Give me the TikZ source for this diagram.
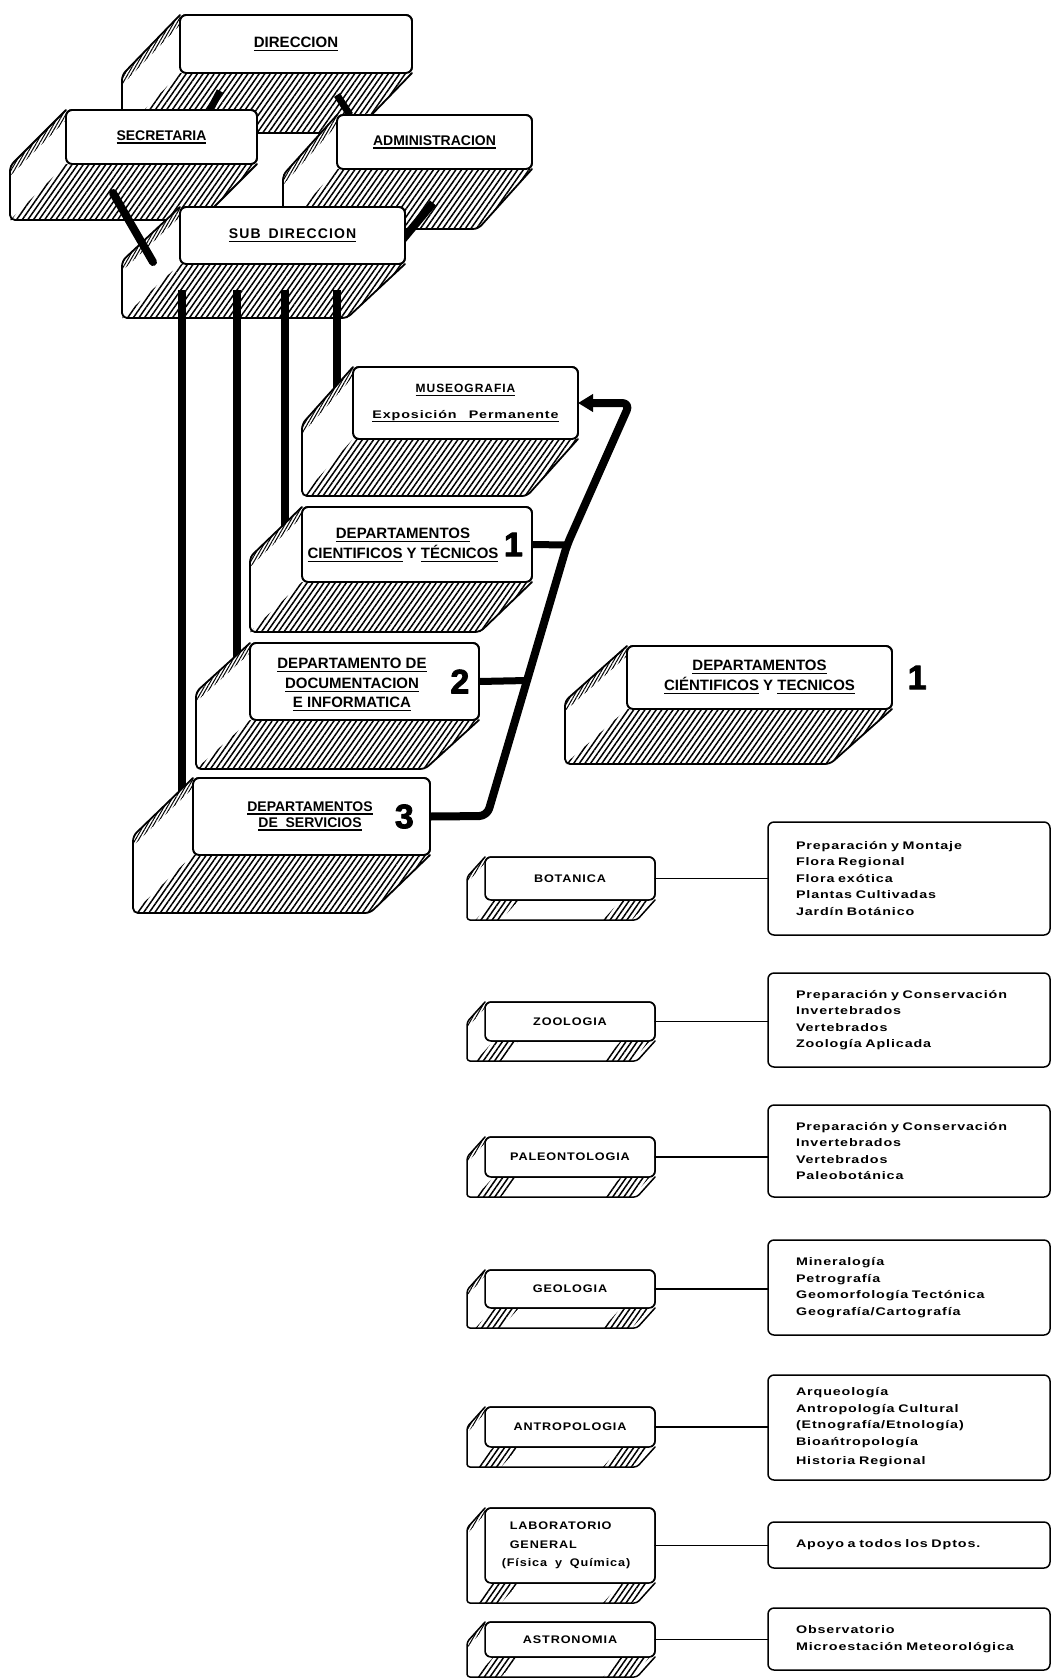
\documentclass[tikz,border=0pt]{standalone}
\usepackage{fontspec}
\setmainfont{Liberation Sans}
\newfontfamily\listfont[FakeStretch=1.3,LetterSpace=8,WordSpace=2.5]{Liberation Sans}
\newfontfamily\labfont[FakeStretch=1.15,LetterSpace=8,WordSpace=1.8]{Liberation Sans}
\newfontfamily\widefont[LetterSpace=8,WordSpace=1.6]{Liberation Sans}
\newfontfamily\numfont[FakeBold=2.5]{Liberation Sans}
\usetikzlibrary{calc,positioning,patterns.meta,arrows.meta}
\tikzset{
    frontface/.style={draw,line width=1.8pt,rounded corners=6pt,fill=white,inner sep=0pt,outer sep=0pt,align=center,font=\bfseries\fontsize{15}{20}\selectfont},
    rim/.style={line width=1.8pt,rounded corners=5pt},
    hatched/.style={pattern={Lines[angle=55,distance=4.6pt,line width=1.5pt]}},
    stripe/.style={pattern={Lines[angle=60,distance=2.8pt,line width=1pt]}},
    thickbar/.style={line width=8pt,line cap=butt},
    tie/.style={line width=1.6pt},
    lbl/.style={inner sep=0pt,align=center,font=\bfseries\fontsize{15}{20}\selectfont},
    numeral/.style={inner sep=0pt,font=\numfont\bfseries\fontsize{34}{34}\selectfont},
    flatbox/.style={frontface,line width=1.5pt,minimum width=170pt,font=\labfont\bfseries\fontsize{11}{17}\selectfont},
    listbox/.style={draw,line width=1.5pt,rounded corners=6pt,fill=white,outer sep=0pt,inner xsep=28pt,inner ysep=0pt,minimum width=282pt,text width=226pt,align=left,font=\listfont\bfseries\fontsize{11}{16.5}\selectfont}
}
\newcommand\undl[1]{\leavevmode\setbox0=\hbox{#1}\rlap{\rule[-3.5pt]{\wd0}{1.3pt}}\box0\relax}
% deep block under a front face: #1 node, (#2,#3) depth
\newcommand\slab[3]{%
  \path (#1.north west) coordinate (#1-nw) (#1.south west) coordinate (#1-sw) (#1.south east) coordinate (#1-se);
  \path ($(#1-nw)+(#2,#3)$) coordinate (#1-bnw) ($(#1-sw)+(#2,#3)$) coordinate (#1-bsw) ($(#1-se)+(#2,#3)$) coordinate (#1-bse);
  \fill[white] (#1-nw) -- (#1-bnw) -- (#1-bsw) -- (#1-bse) -- (#1-se) -- (#1-sw) -- cycle;
  \fill[hatched] (#1-sw) -- (#1-bsw) -- (#1-bse) -- (#1-se) -- cycle;
  \fill[stripe] (#1-nw) -- (#1-bnw) -- ($(#1-bnw)+(0,10)$) -- ($(#1-nw)+(0,10)$) -- cycle;
  \draw[rim] (#1-nw) -- (#1-bnw) -- (#1-bsw) -- (#1-bse) -- (#1-se);
  \draw[rim,rounded corners=6pt] (#1.south west) rectangle (#1.north east);
}
% thin block, hatched only at the corners
\newcommand\flatslab[3]{%
  \path (#1.north west) coordinate (#1-nw) (#1.south west) coordinate (#1-sw) (#1.south east) coordinate (#1-se);
  \path ($(#1-nw)+(#2,#3)$) coordinate (#1-bnw) ($(#1-sw)+(#2,#3)$) coordinate (#1-bsw) ($(#1-se)+(#2,#3)$) coordinate (#1-bse);
  \fill[white] (#1-nw) -- (#1-bnw) -- (#1-bsw) -- (#1-bse) -- (#1-se) -- (#1-sw) -- cycle;
  \fill[stripe] (#1-nw) -- (#1-bnw) -- ($(#1-bnw)+(0,6)$) -- ($(#1-nw)+(0,6)$) -- cycle;
  \foreach \p/\q in {0.05/0.2,0.8/0.97}
    \fill[hatched] ($(#1-sw)!\p!(#1-se)$) -- ($(#1-bsw)!\p!(#1-bse)$) -- ($(#1-bsw)!\q!(#1-bse)$) -- ($(#1-sw)!\q!(#1-se)$) -- cycle;
  \draw[rim,line width=1.5pt,rounded corners=3pt] (#1-nw) -- (#1-bnw) -- (#1-bsw) -- (#1-bse) -- (#1-se);
  \draw[rim,line width=1.5pt,rounded corners=6pt] (#1.south west) rectangle (#1.north east);
}

\begin{document}
\begin{tikzpicture}[line cap=round,line join=round,x=1pt,y=-1pt]
\fill[white] (0,0) rectangle (1053,1679);
\useasboundingbox (0,0) rectangle (1053,1679);

% direction
\node[frontface,minimum width=232pt,minimum height=58pt] (dir) at (296,44) {\undl{DIRECCION}};
\slab{dir}{-58}{60}
\coordinate (sec-top) at (210,110);
\coordinate (adm-top) at (350,115);
\draw[thickbar,line width=7pt] ($(dir.south west)+(40,18)$) -- (sec-top);
\draw[thickbar,line width=7pt] ($(dir.south west)+(157,22)$) -- (adm-top);

\node[frontface,minimum width=191pt,minimum height=54pt,font=\bfseries\fontsize{14}{16}\selectfont] (sec) at (161.5,137) {\undl{SECRETARIA}};
\slab{sec}{-56}{56}
\node[frontface,minimum width=195pt,minimum height=54pt,font=\bfseries\fontsize{14}{16}\selectfont] (adm) at (434.5,142) {\undl{ADMINISTRACION}};
\slab{adm}{-54}{60}
\coordinate (sub-in) at (399,244);
\draw[thickbar] ($(adm.south west)+(96,34)$) -- (sub-in);

\node[frontface,minimum width=225pt,minimum height=57pt,font=\widefont\bfseries\fontsize{14}{16}\selectfont] (sub) at (292.5,235.5) {\undl{SUB DIRECCION}};
\slab{sub}{-58}{54}
\draw[thickbar,line cap=round] ($(sec.south west)+(47,29)$) -- ($(sub.south west)+(-27,-2)$);

% lines down from sub direccion
\foreach \x/\y/\n in {182/816/serv,237/681/doc,285/545/cien,337/403/museo}{
  \coordinate (top-\n) at (\x,290);
  \coordinate (end-\n) at (\x,\y);
  \draw[thickbar] (top-\n) -- (end-\n);
}

\node[frontface,minimum width=225pt,minimum height=72pt] (museo) at (465.5,403)
  {{\widefont\fontsize{12}{14}\selectfont\undl{MUSEOGRAFIA}}\\[6pt]{\listfont\fontsize{11}{14}\selectfont\undl{Exposición Permanente}}};
\slab{museo}{-51}{57}

\node[frontface,minimum width=230pt,minimum height=75pt] (dcien) at (417,544.5) {};
\node[lbl] (dcien-t) at (403,545) {\undl{DEPARTAMENTOS}\\\undl{CIENTIFICOS} Y \undl{TÉCNICOS}};
\node[numeral,left=9pt of dcien.east] (dcien-n) {1};
\slab{dcien}{-52}{50}

\node[frontface,minimum width=229pt,minimum height=77pt] (ddoc) at (364.5,681.5) {};
\node[lbl,font=\bfseries\fontsize{15}{19.5}\selectfont] (ddoc-t) at (352,685) {\undl{DEPARTAMENTO DE}\\\undl{DOCUMENTACION}\\\undl{E INFORMATICA}};
\node[numeral,left=9.5pt of ddoc.east] (ddoc-n) {2};
\slab{ddoc}{-54}{49}

\node[frontface,minimum width=237pt,minimum height=77pt] (dserv) at (311.5,816.5) {};
\node[lbl,font=\bfseries\fontsize{14}{16}\selectfont] (dserv-t) at (310,816) {\undl{DEPARTAMENTOS}\\\undl{DE\ \ SERVICIOS}};
\node[numeral,left=16pt of dserv.east] (dserv-n) {3};
\slab{dserv}{-60}{58}

% return line to museografia
\coordinate (c1) at (487,816);
\coordinate (c2) at (567,545);
\coordinate (c3) at (630,403);
\draw[thickbar,rounded corners=8pt,-{Triangle[length=15pt,width=17pt]}] (dserv.east) -- (c1) -- (c2) -- (c3) -- (museo.east);
\draw[thickbar,line width=7pt] (dcien.east) -- (c2);
\draw[thickbar,line width=7pt] (ddoc.east) -- ($(c1)!0.5!(c2)$);

% departamentos cientificos y tecnicos
\node[frontface,minimum width=265pt,minimum height=63pt] (dct) at (759.5,677.5) {\undl{DEPARTAMENTOS}\\\undl{CIÉNTIFICOS} Y \undl{TECNICOS}};
\node[numeral,right=15.5pt of dct.east] (dct-n) {1};
\slab{dct}{-62}{55}

\node[flatbox,minimum height=43pt] (bot) at (570,878.5) {BOTANICA};
\node[listbox,minimum height=113pt] (bot-list) at (909,878.5) {Preparación y Montaje\\Flora Regional\\Flora exótica\\Plantas Cultivadas\\Jardín Botánico};
\node[flatbox,minimum height=39pt] (zoo) at (570,1021.5) {ZOOLOGIA};
\node[listbox,minimum height=94pt] (zoo-list) at (909,1020) {Preparación y Conservación\\Invertebrados\\Vertebrados\\Zoología Aplicada};
\node[flatbox,minimum height=40pt] (pal) at (570,1157) {PALEONTOLOGIA};
\node[listbox,minimum height=92pt] (pal-list) at (909,1151) {Preparación y Conservación\\Invertebrados\\Vertebrados\\Paleobotánica};
\node[flatbox,minimum height=38pt] (geo) at (570,1289) {GEOLOGIA};
\node[listbox,minimum height=95pt] (geo-list) at (909,1287.5) {Mineralogía\\Petrografía\\Geomorfología Tectónica\\Geografía/Cartografía};
\node[flatbox,minimum height=40pt] (ant) at (570,1427) {ANTROPOLOGIA};
\node[listbox,minimum height=105pt] (ant-list) at (909,1427.5) {Arqueología\\Antropología Cultural\\(Etnografía/Etnología)\\Bioańtropología\\[3pt]Historia Regional};
\node[flatbox,minimum height=75pt,align=left,font=\labfont\bfseries\fontsize{11}{18.5}\selectfont] (lab) at (570,1545.5) {LABORATORIO\\GENERAL\\\hspace*{-8pt}(Física y Química)};
\node[listbox,minimum height=46pt] (lab-list) at (909,1545) {Apoyo a todos los Dptos.};
\node[flatbox,minimum height=35pt] (ast) at (570,1639.5) {ASTRONOMIA};
\node[listbox,minimum height=62pt] (ast-list) at (909,1639) {Observatorio\\Microestación Meteorológica};

\foreach \n in {bot,zoo,pal,geo,ant,lab,ast}{
  \flatslab{\n}{-18}{20}
  \draw[tie] (\n.east) -- (\n.east -| \n-list.west);
}
\end{tikzpicture}
\end{document}
